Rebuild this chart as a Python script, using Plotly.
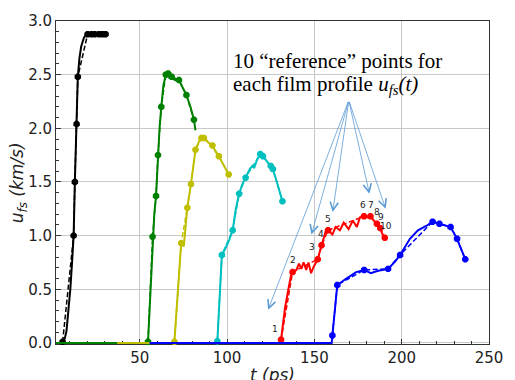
import plotly.graph_objects as go

# ---- free-surface velocity profiles: dense profile + 10 reference points ----
black_t = [0, 5.3, 5.8, 7.0, 8.0, 8.9, 10.2, 11.2, 12.1, 12.8, 13.8, 14.5, 15.4, 16.4, 17.9, 19.2, 20.1, 22.3, 24.2, 26.6, 28.5, 30.4, 31.0]
black_u = [0, 0, 0.01, 0.04, 0.11, 0.26, 0.50, 0.75, 1.00, 1.50, 2.04, 2.48, 2.65, 2.76, 2.84, 2.877, 2.877, 2.877, 2.877, 2.877, 2.877, 2.877, 2.877]
black_ref_t = [5.8, 12.1, 12.8, 13.8, 14.5, 20.1, 22.3, 24.2, 26.6, 28.5, 30.4]
black_ref_u = [0.01, 1.00, 1.50, 2.04, 2.48, 2.877, 2.877, 2.877, 2.877, 2.877, 2.877]

green_t = [0, 54.3, 54.7, 55.5, 56.5, 57.3, 58.3, 59.3, 60.4, 61.3, 62.3, 63.5, 64.9, 65.5, 66.2, 67.0, 68.3, 70.0, 72.4, 74.0, 76.7, 79.0, 81.0, 81.9]
green_u = [0, 0, 0.01, 0.30, 0.70, 0.99, 1.20, 1.37, 1.75, 2.00, 2.20, 2.40, 2.50, 2.52, 2.51, 2.47, 2.48, 2.45, 2.45, 2.40, 2.31, 2.20, 2.08, 1.98]
green_ref_t = [54.7, 57.3, 59.3, 60.4, 62.3, 64.9, 66.2, 68.3, 72.4, 76.7, 81.0]
green_ref_u = [0.01, 0.99, 1.37, 1.75, 2.20, 2.50, 2.51, 2.48, 2.45, 2.31, 2.08]

yellow_t = [37.0, 69.4, 69.8, 71.0, 72.5, 73.7, 75.2, 77.2, 79.3, 81.9, 84.0, 85.3, 86.7, 89.0, 91.6, 93.5, 95.3, 98.0, 100.9]
yellow_u = [0, 0, 0.01, 0.30, 0.65, 0.93, 0.90, 1.26, 1.48, 1.80, 1.88, 1.91, 1.91, 1.87, 1.84, 1.78, 1.74, 1.66, 1.57]
yellow_ref_t = [69.8, 73.7, 77.2, 79.3, 81.9, 85.3, 86.7, 91.6, 95.3, 100.9]
yellow_ref_u = [0.01, 0.93, 1.26, 1.48, 1.80, 1.91, 1.91, 1.84, 1.74, 1.57]

cyan_t = [56.0, 94.0, 94.4, 95.5, 97.0, 99.0, 101.0, 103.2, 105.0, 106.9, 108.5, 110.6, 113.0, 114.5, 115.5, 117.0, 119.0, 120.5, 122.5, 125.0, 126.2, 128.5, 131.7]
cyan_u = [0, 0, 0.015, 0.40, 0.82, 0.88, 0.95, 1.05, 1.25, 1.39, 1.47, 1.54, 1.62, 1.65, 1.63, 1.70, 1.76, 1.74, 1.70, 1.65, 1.62, 1.50, 1.32]
cyan_ref_t = [94.4, 97.0, 103.2, 106.9, 110.6, 119.0, 120.5, 125.0, 126.2, 131.7]
cyan_ref_u = [0.015, 0.82, 1.05, 1.39, 1.54, 1.76, 1.74, 1.65, 1.62, 1.32]

red_t = [57.0, 130.4, 130.9, 133.2, 135.1, 136.6, 137.5, 139.7, 141.2, 142.5, 143.8, 145.3, 146.6, 148.1, 149.6, 151.9,
         154.1, 156.5, 157.8, 160.3, 162.1, 164.6, 166.8, 169.6, 172.0, 174.3, 176.1, 178.4, 180.2, 182.1, 183.6,
         185.8, 187.7, 188.8, 190.3]
red_u = [0, 0, 0.03, 0.33, 0.50, 0.63, 0.66, 0.68, 0.74, 0.69, 0.75, 0.68, 0.75, 0.65, 0.71, 0.78,
         0.91, 1.04, 1.05, 1.01, 1.08, 1.05, 1.12, 1.06, 1.14, 1.08, 1.17, 1.18, 1.17, 1.18, 1.15,
         1.11, 1.07, 1.02, 0.98]
red_ref_t = [130.9, 137.5, 151.9, 154.1, 157.8, 178.4, 182.1, 185.8, 187.7, 190.3]
red_ref_u = [0.03, 0.66, 0.78, 0.91, 1.05, 1.18, 1.18, 1.11, 1.07, 0.98]
red_ref_labels = ["1", "2", "3", "4", "5", "6", "7", "8", "9", "10"]

blue_t = [55.6, 159.9, 160.3, 163.1, 168.3, 173.9, 178.5, 182.3, 186.0, 192.2, 196.3, 199.1, 204.7, 209.3, 214.0,
          217.7, 221.6, 228.0, 231.7, 236.4]
blue_u = [0, 0, 0.07, 0.54, 0.60, 0.66, 0.68, 0.65, 0.67, 0.69, 0.76, 0.82, 0.97, 1.05, 1.09,
          1.13, 1.11, 1.08, 0.97, 0.78]
blue_ref_t = [160.3, 163.1, 178.5, 192.2, 199.1, 217.7, 221.6, 228.0, 231.7, 236.4]
blue_ref_u = [0.07, 0.54, 0.68, 0.69, 0.82, 1.13, 1.11, 1.08, 0.97, 0.78]

x_ticks = [50, 100, 150, 200, 250]
y_ticks = [0.0, 0.5, 1.0, 1.5, 2.0, 2.5, 3.0]

# arrows from the caption to the reference points
arrow_tail = (169.7, 2.26)
arrow_heads_t = [123.5, 148.3, 160.5, 181.5, 190.8]
arrow_heads_u = [0.31, 1.01, 1.22, 1.39, 1.25]

series = [
    ("black", black_t, black_u, black_ref_t, black_ref_u),
    ("#008000", green_t, green_u, green_ref_t, green_ref_u),
    ("#bfbf00", yellow_t, yellow_u, yellow_ref_t, yellow_ref_u),
    ("#00bfbf", cyan_t, cyan_u, cyan_ref_t, cyan_ref_u),
    ("#ff0000", red_t, red_u, red_ref_t, red_ref_u),
    ("#0000ff", blue_t, blue_u, blue_ref_t, blue_ref_u),
]

fig = go.Figure()
for color, t, u, rt, ru in series:
    fig.add_trace(go.Scatter(
        x=t, y=u, mode="lines", line=dict(color=color, width=2),
        showlegend=False, hoverinfo="skip"))
    fig.add_trace(go.Scatter(
        x=rt, y=ru, mode="lines+markers",
        line=dict(color=color, width=1.5, dash="5px,2.5px"),
        marker=dict(symbol="octagon", size=7, color=color, line=dict(width=0)),
        showlegend=False, hoverinfo="skip", cliponaxis=False))

annotations = []
# numbers next to the red reference points
label_shift = [(-6, 11), (0, 12), (-6, 12), (-1, 11), (0, 11), (-1, 11), (1, 11), (0, 12), (1, 11), (1, 12)]
for lab, t, u, (dx, dy) in zip(red_ref_labels, red_ref_t, red_ref_u, label_shift):
    annotations.append(dict(
        x=t, y=u, xref="x", yref="y", text=lab, showarrow=False,
        xshift=dx, yshift=dy, font=dict(family="DejaVu Sans", size=9, color="#222")))

for ht, hu in zip(arrow_heads_t, arrow_heads_u):
    annotations.append(dict(
        x=ht, y=hu, xref="x", yref="y", ax=arrow_tail[0], ay=arrow_tail[1],
        axref="x", ayref="y", text="", showarrow=True,
        arrowhead=5, arrowsize=2, arrowwidth=0.8, arrowcolor="#5b9bd5"))

serif = dict(family="Liberation Serif", size=21, color="black")
annotations.append(dict(x=102.2, y=2.63, xref="x", yref="y", xanchor="left", yanchor="middle",
                        text="10 \u201creference\u201d points for", showarrow=False, font=serif))
annotations.append(dict(x=102.2, y=2.40, xref="x", yref="y", xanchor="left", yanchor="middle",
                        text="each film profile <i>u<sub>fs</sub>(t)</i>", showarrow=False, font=serif))

# axis titles
annotations.append(dict(x=-0.086, y=0.5, xref="paper", yref="paper", textangle=-90,
                        xanchor="center", yanchor="middle", showarrow=False,
                        text="<i>u<sub>fs</sub> (km/s)</i>",
                        font=dict(family="DejaVu Sans", size=17, color="#222")))
annotations.append(dict(x=0.5, y=-0.095, xref="paper", yref="paper",
                        xanchor="center", yanchor="middle", showarrow=False,
                        text="<i>t (ps)</i>",
                        font=dict(family="DejaVu Sans", size=17, color="#222")))

axis_common = dict(
    showline=True, linecolor="#333", linewidth=1, mirror=True,
    showgrid=True, gridcolor="#c8c8c8", gridwidth=1, zeroline=False,
    ticks="inside", ticklen=5, tickcolor="#333", tickwidth=1,
    tickfont=dict(family="DejaVu Sans", size=15, color="#222"),
    layer="below traces",
)

fig.update_layout(
    width=515, height=380,
    margin=dict(l=56, r=16, t=16, b=36),
    paper_bgcolor="white", plot_bgcolor="white",
    annotations=annotations,
    xaxis=dict(range=[2, 250], tickvals=x_ticks, ticktext=[str(v) for v in x_ticks],
               minor=dict(dtick=10, tick0=0, ticks="inside", ticklen=3, tickcolor="#333", showgrid=False),
               **axis_common),
    yaxis=dict(range=[-0.01, 3.0], tickvals=y_ticks, ticktext=[f"{v:.1f}" for v in y_ticks],
               minor=dict(dtick=0.1, tick0=0, ticks="inside", ticklen=3, tickcolor="#333", showgrid=False),
               **axis_common),
)

fig.write_html("out.html")
